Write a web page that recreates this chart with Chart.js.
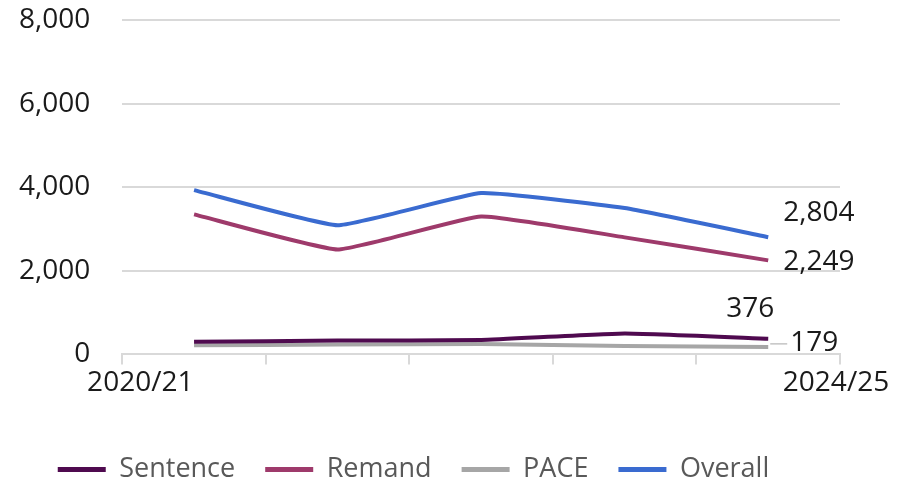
<!DOCTYPE html>
<html>
<head>
<meta charset="utf-8">
<script src="https://cdn.jsdelivr.net/npm/chart.js@4"></script>
<style>
  html, body { margin: 0; padding: 0; background: #fff; }
  #wrap { width: 918px; height: 483px; }
</style>
</head>
<body>
<div id="wrap"><canvas id="trend-chart" width="918" height="483"></canvas></div>
<script>
// Line chart
// ------------------------------
var years = ["2020/21", "2021/22", "2022/23", "2023/24", "2024/25"];
var sentence = [300, 330, 345, 500, 376];
var remand = [3350, 2510, 3300, 2800, 2249];
var pace = [220, 235, 250, 200, 179];
var overall = [3930, 3090, 3860, 3500, 2804];
var yTicks = [0, 2000, 4000, 6000, 8000];

var fontFamily = "'Open Sans', sans-serif";

// Value labels on the last point of each line
var endLabels = {
    id: 'endLabels',
    afterDatasetsDraw: function(chart) {
        var ctx = chart.ctx;
        // [dx, dy, align] for each dataset
        var offsets = [[-18, -30, 'center'], [15, 2, 'left'], [22, -4, 'left'], [15, -24, 'left']];
        ctx.save();
        ctx.font = "28px " + fontFamily;
        ctx.fillStyle = '#1a1a1a';
        ctx.textBaseline = 'middle';
        chart.data.datasets.forEach(function(ds, i) {
            var meta = chart.getDatasetMeta(i);
            var last = meta.data.length - 1;
            var pt = meta.data[last];
            var o = offsets[i];
            if (i === 2) {
                ctx.strokeStyle = '#a6a6a6';
                ctx.lineWidth = 1;
                ctx.beginPath();
                ctx.moveTo(pt.x + 2, pt.y - 3);
                ctx.lineTo(pt.x + o[0] - 3, pt.y - 3);
                ctx.stroke();
            }
            ctx.textAlign = o[2];
            ctx.fillText(ds.data[last].toLocaleString('en-GB'), pt.x + o[0], pt.y + o[1]);
        });
        ctx.restore();
    }
};

// First and last year under the axis, placed like the original
var yearLabels = {
    id: 'yearLabels',
    afterDraw: function(chart) {
        var ctx = chart.ctx;
        var area = chart.chartArea;
        ctx.save();
        ctx.font = "28px " + fontFamily;
        ctx.fillStyle = '#1a1a1a';
        ctx.textBaseline = 'middle';
        ctx.textAlign = 'center';
        var y = area.bottom + 29;
        ctx.fillText(years[0], area.left + 18, y);
        ctx.fillText(years[years.length - 1], area.right - 4, y);
        ctx.restore();
    }
};

window.addEventListener("load", function() {

    var ctx = document.getElementById("trend-chart");

    var lineStyle = function(label, data, color) {
        return {
            label: label,
            data: data,
            borderColor: color,
            backgroundColor: color,
            borderWidth: 4,
            pointRadius: 0,
            tension: 0.12,
            fill: false
        };
    };

    var chartData = {
        labels: years,
        datasets: [
            lineStyle("Sentence", sentence, "#4f0a4f"),
            lineStyle("Remand", remand, "#9e3a6b"),
            lineStyle("PACE", pace, "#a6a6a6"),
            lineStyle("Overall", overall, "#3a6bd0")
        ]
    };

    var chartOptions = {
        responsive: false,
        animation: false,
        layout: { padding: { top: 20, right: 78, left: -13, bottom: -10 } },
        scales: {
            x: {
                offset: true,
                grid: {
                    display: true,
                    offset: true,
                    drawOnChartArea: false,
                    color: '#d9d9d9',
                    lineWidth: 2,
                    tickLength: 10
                },
                border: { color: '#d9d9d9', width: 2 },
                ticks: {
                    autoSkip: false,
                    maxRotation: 0,
                    color: 'rgba(0,0,0,0)',
                    font: { family: fontFamily, size: 28 },
                    padding: 14,
                    callback: function(v, i) {
                        return (i === 0 || i === years.length - 1) ? years[i] : '';
                    }
                }
            },
            y: {
                min: 0,
                max: 8000,
                afterBuildTicks: function(axis) {
                    axis.ticks = yTicks.map(function(v) { return { value: v }; });
                },
                afterFit: function(axis) {
                    axis.paddingTop = 10;
                    axis.paddingBottom = 10;
                },
                grid: { color: '#d9d9d9', lineWidth: 2, drawTicks: false },
                border: { display: false },
                ticks: {
                    color: '#1a1a1a',
                    padding: 32,
                    font: { family: fontFamily, size: 28 },
                    callback: function(v) { return v.toLocaleString('en-GB'); }
                }
            }
        },
        plugins: {
            tooltip: { enabled: false },
            legend: {
                position: 'bottom',
                labels: {
                    color: '#595959',
                    boxWidth: 48,
                    boxHeight: 5,
                    padding: 30,
                    font: { family: fontFamily, size: 27 },
                    generateLabels: function(chart) {
                        return chart.data.datasets.map(function(ds, i) {
                            return {
                                text: ds.label,
                                fillStyle: ds.borderColor,
                                strokeStyle: ds.borderColor,
                                lineWidth: 0,
                                fontColor: '#595959',
                                datasetIndex: i
                            };
                        });
                    }
                }
            }
        }
    };

    var config = {
        type: 'line',
        options: chartOptions,
        data: chartData,
        plugins: [endLabels, yearLabels]
    };

    // Create the chart
    var trendChart = new Chart(ctx, config);
});
</script>
</body>
</html>
